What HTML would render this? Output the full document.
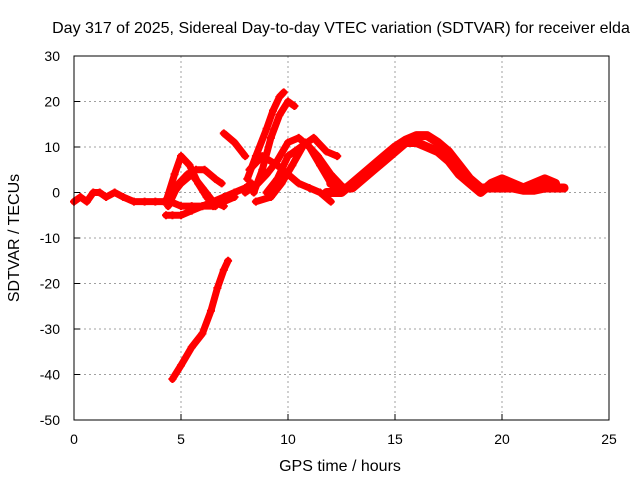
<!DOCTYPE html>
<html><head><meta charset="utf-8"><style>
body{margin:0;background:#fff}
svg text{font-family:"Liberation Sans",sans-serif;font-size:14px;fill:#000}
svg text.ttl{font-size:16px}
</style></head><body>
<svg id="chart" width="640" height="480" xmlns="http://www.w3.org/2000/svg">
<rect width="640" height="480" fill="#fff"/>
<g id="grid"></g>
<g id="series"></g>
<rect x="74" y="56" width="535" height="364" fill="none" stroke="#000" stroke-width="1"/>
<g id="ticks"></g>
<text class="ttl" x="341" y="33" text-anchor="middle">Day 317 of 2025, Sidereal Day-to-day VTEC variation (SDTVAR) for receiver elda</text>
<text class="ttl" x="340" y="471" text-anchor="middle">GPS time / hours</text>
<text class="ttl" transform="translate(19,238) rotate(-90)" text-anchor="middle">SDTVAR / TECUs</text>
</svg>
<script>
const xTicks=[0,5,10,15,20,25];
const yTicks=[30,20,10,0,-10,-20,-30,-40,-50];
const baseT=[0,0.3,0.6,0.9,1.2,1.5,1.9,2.3,2.8,3.3,3.8,4.2,4.5,5,5.5,6,6.5,7,7.5,8,8.3];
const baseV=[-2,-1,-2,0,0,-1,0,-1,-2,-2,-2,-2,-2,-3,-3,-3,-2,-1,0,1,2];
const hump1T=[4.3,4.7,5,5.4,5.8,6.2,6.6];
const hump1V=[-2,4,8,6,2,-1,-3];
const hump2T=[4.4,4.9,5.3,5.7,6.1,6.6,6.9];
const hump2V=[-3,2,4,5,5,3,2];
const hump3T=[4.5,5,5.5,6,6.5,7];
const hump3V=[-1,2,4,1,-2,-3];
const lowT=[4.3,4.6,5,5.5,6,6.5,7,7.5];
const lowV=[-5,-5,-5,-4,-3,-3,-2,-1];
const riseAT=[8.1,8.5,9,9.3,9.6,9.8];
const riseAV=[3,8,14,18,21,22];
const riseBT=[8.4,8.8,9.2,9.6,10,10.3];
const riseBV=[0,5,12,17,20,19];
const shortT=[7,7.5,8];
const shortV=[13,11,8];
const crossAT=[8,8.6,9,9.5,10,10.5,11,11.5,12,12.5];
const crossAV=[0,2,4,7,11,12,10,6,2,0];
const crossBT=[8.2,8.8,9.5,10,10.5,11,11.5,12];
const crossBV=[5,8,6,4,2,1,0,-2];
const crossCT=[8.5,9.2,9.7,10.2,10.8,11.4,12,12.6];
const crossCV=[-2,-1,2,6,11,8,4,1];
const crossDT=[9,9.5,10,10.6,11.2,11.8,12.3];
const crossDV=[0,3,8,10,12,9,8];
const mainAT=[11.8,12.5,13,13.5,14,14.5,15,15.5,16,16.5,17,17.5,18,18.5,19,19.5,20,20.5,21,21.5,22,22.5,22.9];
const mainAV=[0,0,2,4,6,8,10,11.5,12.5,12.5,11,9,6,3,1,1,1,1,0.5,0.5,1,1,1];
const mainBT=[12,12.5,13,13.5,14,14.5,15,15.5,16,16.5,17,17.5,18,18.5,19,19.5,20,20.5,21,21.5,22,22.5];
const mainBV=[2,1,1,3,5,7,9,11,11,10,9,7,4,2,0,2,3,2,1,2,3,2];
const dropT=[4.6,5,5.5,6,6.4,6.7,7,7.2];
const dropV=[-41,-38,-34,-31,-26,-21,-17,-15];
const traces=[[baseT,baseV],[hump1T,hump1V],[hump2T,hump2V],[hump3T,hump3V],[lowT,lowV],[riseAT,riseAV],[riseBT,riseBV],[shortT,shortV],[crossAT,crossAV],[crossBT,crossBV],[crossCT,crossCV],[crossDT,crossDV],[mainAT,mainAV],[mainBT,mainBV],[dropT,dropV]];
const NS="http://www.w3.org/2000/svg";
const X0=74,X1=609,Y0=56,Y1=420;
function xs(t){return X0+(t-0)/(25-0)*(X1-X0);}
function ys(v){return Y1-(v+50)/(80)*(Y1-Y0);}
const grid=document.getElementById('grid'),ticks=document.getElementById('ticks'),ser=document.getElementById('series');
function mk(tag,at,p){const e=document.createElementNS(NS,tag);for(const k in at)e.setAttribute(k,at[k]);p.appendChild(e);return e;}
xTicks.forEach(t=>{const x=xs(t);
 if(t>0&&t<25){const g=mk('line',{x1:x,x2:x,y1:Y0,y2:Y1,stroke:'#a0a0a0','stroke-dasharray':'2,3'},grid);
 
 }
 const l=mk('line',{x1:x,x2:x,y1:Y1,y2:Y1-6,stroke:'#000'},ticks);
 
 
 const tx=mk('text',{x:x,y:Y1+24,'text-anchor':'middle'},ticks);tx.textContent=t;
 
 });
yTicks.forEach(v=>{const y=ys(v);
 if(v>-50&&v<30){const g=mk('line',{x1:X0,x2:X1,y1:y,y2:y,stroke:'#a0a0a0','stroke-dasharray':'2,3'},grid);
 
 }
 const l=mk('line',{x1:X0,x2:X0+6,y1:y,y2:y,stroke:'#000'},ticks);
 
 
 const tx=mk('text',{x:X0-14,y:y+5,'text-anchor':'end'},ticks);tx.textContent=v;
 
 });
traces.forEach((tr,i)=>{const [T,V]=tr;
 const pts=T.map((t,j)=>xs(t)+','+ys(V[j])).join(' ');
 const pl=mk('polyline',{points:pts,fill:'none',stroke:'#f00','stroke-width':(i>=12&&i<14)?9:7,'stroke-linejoin':'round','stroke-linecap':'round'},ser);
 
 
 T.forEach((t,j)=>{const x=xs(t),y=ys(V[j]);
  const m=mk('path',{d:`M${x-4},${y}H${x+4}M${x},${y-4}V${y+4}`,stroke:'#f00','stroke-width':2},ser);
  
  });
});
</script>
</body></html>
